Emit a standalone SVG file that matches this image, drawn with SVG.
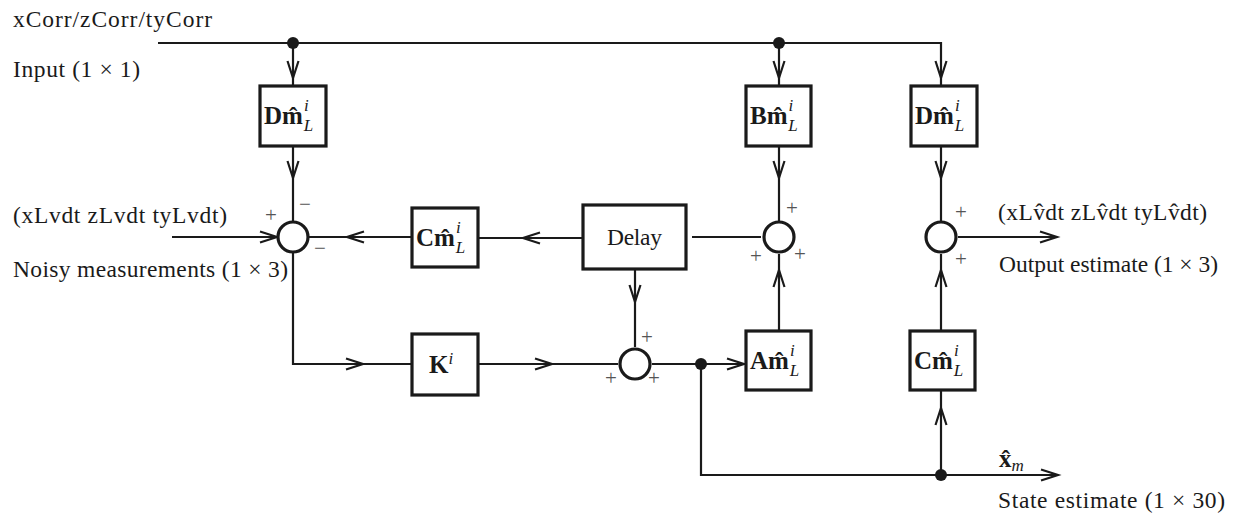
<svg xmlns="http://www.w3.org/2000/svg" xmlns:xlink="http://www.w3.org/1999/xlink" width="1246" height="514" viewBox="0 0 1246 514">
<style>
  .ln{stroke:#1a1a1a;stroke-width:2.2;fill:none}
  .box{stroke:#1a1a1a;stroke-width:3.2;fill:#fff}
  .sum{stroke:#1a1a1a;stroke-width:3.2;fill:#fff}
  .ah{stroke:#1a1a1a;stroke-width:2.2;fill:none;stroke-linejoin:miter}
  .dot{fill:#1a1a1a}
  .t{font-family:"Liberation Serif","DejaVu Serif",serif;font-size:23.5px;fill:#1a1a1a}
  .m{font-family:"Liberation Serif","DejaVu Serif",serif;font-size:25px;fill:#1a1a1a;font-weight:bold}
  .it{font-style:italic;font-weight:normal;font-size:17px}
  .sg{font-family:"Liberation Serif","DejaVu Serif",serif;font-size:21px;fill:#555}
</style>
<defs>
  <path id="ah" class="ah" d="M-17,-5.5 L0,0 L-17,5.5"/>
</defs>

<g id="connectors">
  <polyline class="ln" points="158,43 941,43 941,86"/>
  <line class="ln" x1="293" y1="43" x2="293" y2="86"/>
  <line class="ln" x1="779" y1="43" x2="779" y2="86"/>
  <circle class="dot" cx="293" cy="43" r="6"/>
  <circle class="dot" cx="779" cy="43" r="6"/>
  <use xlink:href="#ah" transform="translate(293,78) rotate(90)"/>
  <use xlink:href="#ah" transform="translate(779,78) rotate(90)"/>
  <use xlink:href="#ah" transform="translate(941,78) rotate(90)"/>
  <line class="ln" x1="293" y1="146" x2="293" y2="221"/>
  <use xlink:href="#ah" transform="translate(293,178) rotate(90)"/>
  <line class="ln" x1="779" y1="146" x2="779" y2="221"/>
  <use xlink:href="#ah" transform="translate(779,178) rotate(90)"/>
  <line class="ln" x1="941" y1="146" x2="941" y2="221"/>
  <use xlink:href="#ah" transform="translate(941,178) rotate(90)"/>
  <line class="ln" x1="172" y1="237" x2="277" y2="237"/>
  <use xlink:href="#ah" transform="translate(277,237)"/>
  <line class="ln" x1="309" y1="237" x2="412" y2="237"/>
  <use xlink:href="#ah" transform="translate(347,237) rotate(180)"/>
  <line class="ln" x1="478" y1="238" x2="583" y2="238"/>
  <use xlink:href="#ah" transform="translate(523,238) rotate(180)"/>
  <line class="ln" x1="692" y1="237" x2="761" y2="237"/>
  <polyline class="ln" points="293,253 293,364 412,364"/>
  <use xlink:href="#ah" transform="translate(363,364)"/>
  <line class="ln" x1="478" y1="364" x2="618" y2="364"/>
  <use xlink:href="#ah" transform="translate(552,364)"/>
  <line class="ln" x1="635" y1="270" x2="635" y2="347"/>
  <use xlink:href="#ah" transform="translate(635,302) rotate(90)"/>
  <line class="ln" x1="652" y1="364" x2="745" y2="364"/>
  <use xlink:href="#ah" transform="translate(744,364)"/>
  <circle class="dot" cx="701" cy="364" r="6"/>
  <line class="ln" x1="779" y1="331" x2="779" y2="254"/>
  <use xlink:href="#ah" transform="translate(779,270) rotate(-90)"/>
  <line class="ln" x1="941" y1="331" x2="941" y2="254"/>
  <use xlink:href="#ah" transform="translate(941,270) rotate(-90)"/>
  <line class="ln" x1="958" y1="237" x2="1057" y2="237"/>
  <use xlink:href="#ah" transform="translate(1057,237)"/>
  <polyline class="ln" points="701,364 701,475 1058,475"/>
  <use xlink:href="#ah" transform="translate(1058,475)"/>
  <line class="ln" x1="941" y1="475" x2="941" y2="391"/>
  <use xlink:href="#ah" transform="translate(941,408) rotate(-90)"/>
  <circle class="dot" cx="941" cy="475" r="6"/>
</g>

<g id="labels">
  <text class="t" x="13" y="27" textLength="199" lengthAdjust="spacing">xCorr/zCorr/tyCorr</text>
  <text class="t" x="13" y="77" textLength="127" lengthAdjust="spacing">Input (1 × 1)</text>
  <text class="t" x="13" y="223" textLength="214" lengthAdjust="spacing">(xLvdt zLvdt tyLvdt)</text>
  <text class="t" x="13" y="277" textLength="275" lengthAdjust="spacing">Noisy measurements (1 × 3)</text>
  <text class="t" x="998" y="220" textLength="209" lengthAdjust="spacing">(xLv̂dt zLv̂dt tyLv̂dt)</text>
  <text class="t" x="999" y="272" textLength="219" lengthAdjust="spacing">Output estimate (1 × 3)</text>
  <text class="m" x="999" y="467">x̂<tspan class="it" dy="4">m</tspan></text>
  <text class="t" x="998" y="508" textLength="227" lengthAdjust="spacing">State estimate (1 × 30)</text>
</g>

<g id="sum1">
  <circle class="sum" cx="293" cy="237" r="15"/>
  <text class="sg" x="265" y="222">+</text>
  <text class="sg" x="299" y="211">−</text>
  <text class="sg" x="314" y="255">−</text>
</g>
<g id="sum2">
  <circle class="sum" cx="635" cy="364" r="15"/>
  <text class="sg" x="641" y="344">+</text>
  <text class="sg" x="605" y="385">+</text>
  <text class="sg" x="648" y="385">+</text>
</g>
<g id="sum3">
  <circle class="sum" cx="779" cy="237" r="15"/>
  <text class="sg" x="786" y="215">+</text>
  <text class="sg" x="750" y="263">+</text>
  <text class="sg" x="794" y="261">+</text>
</g>
<g id="sum4">
  <circle class="sum" cx="941" cy="237" r="15"/>
  <text class="sg" x="955" y="219">+</text>
  <text class="sg" x="955" y="266">+</text>
</g>

<g id="Dm1">
  <rect class="box" x="260" y="86" width="66" height="60"/>
  <text class="m" x="264" y="124">Dm̂<tspan class="it" dx="1" dy="-13">i</tspan><tspan class="it" dx="-5" dy="20">L</tspan></text>
</g>
<g id="Bm">
  <rect class="box" x="746" y="86" width="65" height="60"/>
  <text class="m" x="750" y="124">Bm̂<tspan class="it" dx="1" dy="-13">i</tspan><tspan class="it" dx="-5" dy="20">L</tspan></text>
</g>
<g id="Dm2">
  <rect class="box" x="911" y="86" width="66" height="60"/>
  <text class="m" x="915" y="124">Dm̂<tspan class="it" dx="1" dy="-13">i</tspan><tspan class="it" dx="-5" dy="20">L</tspan></text>
</g>
<g id="Cm1">
  <rect class="box" x="412" y="208" width="66" height="59"/>
  <text class="m" x="416" y="246">Cm̂<tspan class="it" dx="1" dy="-13">i</tspan><tspan class="it" dx="-5" dy="20">L</tspan></text>
</g>
<g id="Delay">
  <rect class="box" x="583" y="205" width="103" height="64"/>
  <text class="t" x="607" y="245" textLength="55" lengthAdjust="spacing">Delay</text>
</g>
<g id="K">
  <rect class="box" x="412" y="334" width="66" height="61"/>
  <text class="m" x="429" y="373">K<tspan class="it" dy="-9">i</tspan></text>
</g>
<g id="Am">
  <rect class="box" x="746" y="331" width="65" height="59"/>
  <text class="m" x="750" y="369">Am̂<tspan class="it" dx="1" dy="-13">i</tspan><tspan class="it" dx="-5" dy="20">L</tspan></text>
</g>
<g id="Cm2">
  <rect class="box" x="910" y="331" width="65" height="59"/>
  <text class="m" x="914" y="369">Cm̂<tspan class="it" dx="1" dy="-13">i</tspan><tspan class="it" dx="-5" dy="20">L</tspan></text>
</g>
</svg>
